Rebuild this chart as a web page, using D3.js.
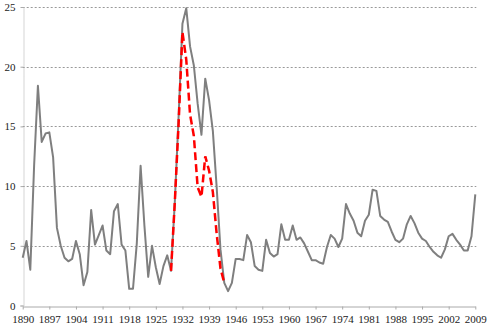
<!DOCTYPE html>
<html><head><meta charset="utf-8">
<script src="https://cdn.jsdelivr.net/npm/d3@7/dist/d3.min.js"></script>
<style>body{margin:0;background:#fff}svg{display:block}svg text{font-family:"Liberation Serif","Times New Roman",serif !important;font-size:11px}</style>
</head><body>
<svg id="c" width="490" height="333"></svg>
<script>
const startYear = 1890;
const unemployment = [
 4.0,5.4,3.0,11.7,18.4,13.7,14.4,14.5,12.4,6.5,
 5.0,4.0,3.7,3.9,5.4,4.3,1.7,2.8,8.0,5.1,
 5.9,6.7,4.6,4.3,7.9,8.5,5.1,4.6,1.4,1.4,
 5.2,11.7,6.7,2.4,5.0,3.2,1.8,3.3,4.2,2.9,
 8.7,15.9,23.6,24.9,21.7,20.1,16.9,14.3,19.0,17.2,
 14.6,9.9,4.7,1.9,1.2,1.9,3.9,3.9,3.8,5.9,
 5.3,3.3,3.0,2.9,5.5,4.4,4.1,4.3,6.8,5.5,
 5.5,6.7,5.5,5.7,5.2,4.5,3.8,3.8,3.6,3.5,
 4.9,5.9,5.6,4.9,5.6,8.5,7.7,7.1,6.1,5.8,
 7.1,7.6,9.7,9.6,7.5,7.2,7.0,6.2,5.5,5.3,
 5.6,6.8,7.5,6.9,6.1,5.6,5.4,4.9,4.5,4.2,
 4.0,4.7,5.8,6.0,5.5,5.1,4.6,4.6,5.8,9.3
];
const years = unemployment.map((v,i)=>startYear+i);
const altYears = [1929,1930,1931,1932,1933,1934,1935,1936,1937,1938,1939,1940,1941,1942,1943];
const altValues = [2.9,8.7,15.3,22.9,20.6,16.0,14.2,9.9,9.1,12.5,11.3,9.5,6.0,3.1,1.9];
const xTicks = [1890,1897,1904,1911,1918,1925,1932,1939,1946,1953,1960,1967,1974,1981,1988,1995,2002,2009];
const yTicks = [0,5,10,15,20,25];

const svg = d3.select("#c");
const x = d3.scaleLinear().domain([1890,2009]).range([22.7,475.3]);
const y = d3.scaleLinear().domain([0,25]).range([305.5,7]);

// gridlines
svg.append("g").selectAll("line").data(yTicks.filter(d=>d>0)).join("line")
  .attr("x1",x(1890)).attr("x2",x(2009)+1)
  .attr("y1",d=>Math.round(y(d))+0.5).attr("y2",d=>Math.round(y(d))+0.5)
  .attr("stroke","#999").attr("stroke-width",1).attr("stroke-dasharray","2,2");

// y axis
const ya = svg.append("g").attr("transform",`translate(${Math.round(x(1890))+0.5},0)`)
  .call(d3.axisLeft(y).tickValues(yTicks).tickSize(3).tickPadding(5));
ya.select(".domain").attr("stroke","#aaa").attr("stroke-dasharray","1,1");
ya.selectAll(".tick line").attr("stroke","#aaa");
ya.selectAll("text").attr("fill","#222");

// x axis
const xa = svg.append("g").attr("transform",`translate(0,${Math.round(y(0))+0.5})`)
  .call(d3.axisBottom(x).tickValues(xTicks).tickFormat(d3.format("d")).tickSize(3).tickSizeOuter(0).tickPadding(6));
xa.select(".domain").attr("stroke","#aaa");
xa.selectAll(".tick line").attr("stroke","#aaa");
xa.selectAll("text").attr("fill","#222");

// main line
const line = d3.line().x(d=>x(d[0])).y(d=>y(d[1]));
svg.append("path").datum(years.map((yr,i)=>[yr,unemployment[i]]))
  .attr("d",line).attr("fill","none").attr("stroke","#7f7f7f").attr("stroke-width",2)
  .attr("stroke-linejoin","round");

// alternative estimate
svg.append("path").datum(altYears.map((yr,i)=>[yr,altValues[i]]))
  .attr("d",line).attr("fill","none").attr("stroke","#ff0000").attr("stroke-width",2.5)
  .attr("stroke-dasharray","8,4");
</script>
</body></html>
